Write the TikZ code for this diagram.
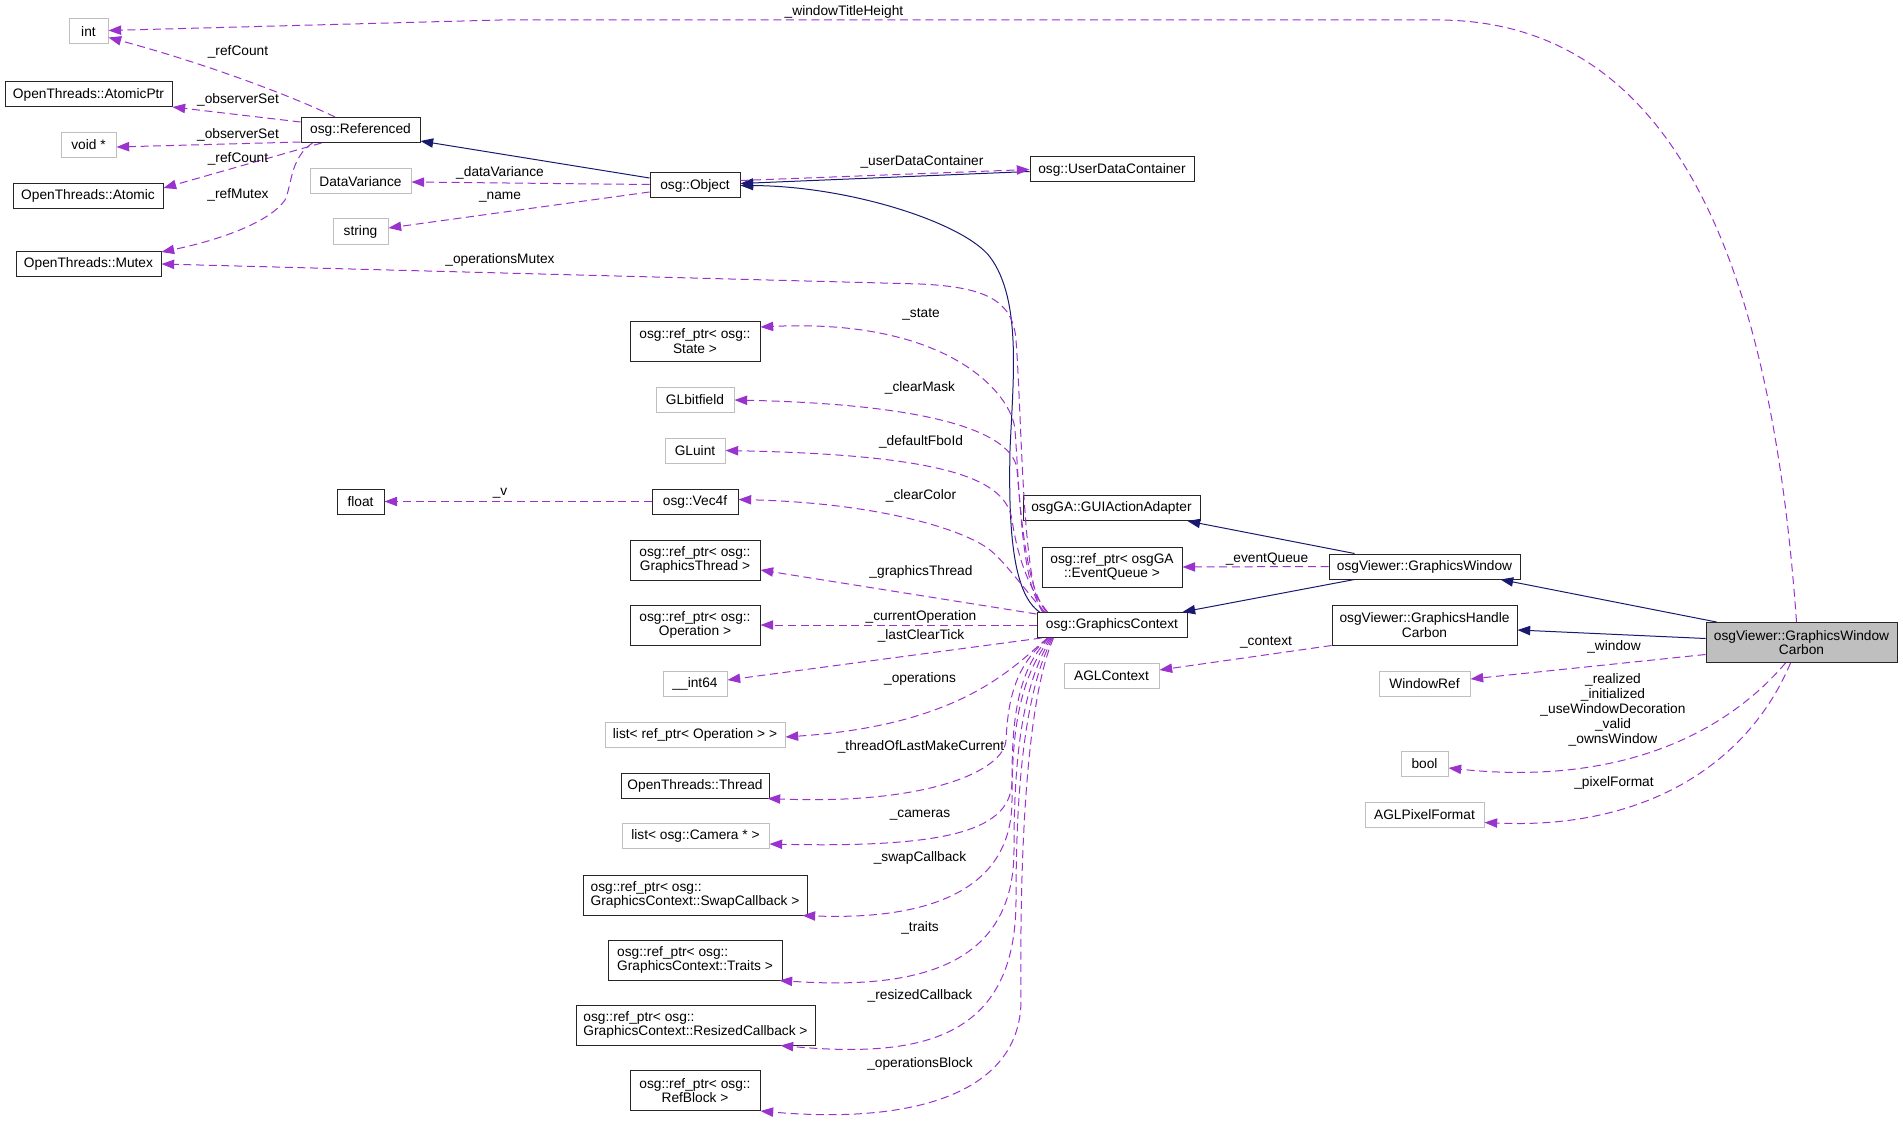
\documentclass[tikz,border=0pt]{standalone}
\usepackage{fontspec}
\setmainfont{Liberation Sans}
\usetikzlibrary{arrows.meta,calc}

\definecolor{inhblue}{RGB}{25,25,112}
\definecolor{usepurple}{RGB}{154,50,205}
\definecolor{extgray}{RGB}{191,191,191}

\begin{document}
\begin{tikzpicture}
            [x=0.75pt, y=-0.75pt,
            >={Triangle[length=9.5pt,width=7pt]},
            every node/.style={font=\fontsize{10.3}{10.9}\selectfont},
            cls/.style={draw=black!85, line width=0.75pt, fill=white, inner sep=0pt, minimum height=18.75pt, align=center},
            ext/.style={cls, draw=extgray},
            wd/.style={minimum width=#1*0.75pt},
            tall/.style={minimum height=30pt},
            inh/.style={->, draw=inhblue, line width=0.75pt},
            use/.style={->, draw=usepurple, line width=0.75pt, dash pattern=on 6pt off 3.5pt},
            lbl/.style={inner sep=0pt, align=center, font=\fontsize{10.3}{11.2}\selectfont}
            ]
            \useasboundingbox (0,0) rectangle (1903,1127);
            % left column
            \node[ext,wd=39] (int) at (88.5,31.5) {int};
            \node[cls,wd=167] (atomicptr) at (88.5,94.5) {OpenThreads::AtomicPtr};
            \node[ext,wd=55] (voidp) at (88.5,145) {void *};
            \node[cls,wd=150] (atomic) at (88,196) {OpenThreads::Atomic};
            \node[cls,wd=145] (mutex) at (88.5,264) {OpenThreads::Mutex};
            \node[cls,wd=119] (referenced) at (360.5,130) {osg::Referenced};
            \node[ext,wd=101] (datavar) at (360.5,181.5) {DataVariance};
            \node[ext,wd=55] (string) at (360.5,231.5) {string};
            \node[cls,wd=47] (float) at (360.5,501.5) {float};
            % members of GraphicsContext
            \node[cls,wd=90] (object) at (695,185.5) {osg::Object};
            \node[cls,wd=164] (userdata) at (1112,169.5) {osg::UserDataContainer};
            \node[cls,wd=130,tall] (state) at (695,341) {osg::ref\_ptr< osg::\\State >};
            \node[ext,wd=78] (glbitfield) at (695,400) {GLbitfield};
            \node[ext,wd=60] (gluint) at (695,450.5) {GLuint};
            \node[cls,wd=86] (vec4f) at (695,501.5) {osg::Vec4f};
            \node[cls,wd=130,tall] (gthread) at (695,560) {osg::ref\_ptr< osg::\\GraphicsThread >};
            \node[cls,wd=130,tall] (operation) at (695,625) {osg::ref\_ptr< osg::\\Operation >};
            \node[ext,wd=64] (int64) at (695,684) {\_\_int64};
            \node[ext,wd=180] (listop) at (695,734.5) {list< ref\_ptr< Operation > >};
            \node[cls,wd=148] (thread) at (695,785.5) {OpenThreads::Thread};
            \node[ext,wd=147] (listcam) at (695.5,836) {list< osg::Camera * >};
            \node[cls,wd=224,tall,align=left] (swapcb) at (695,895) {osg::ref\_ptr< osg::\\GraphicsContext::SwapCallback >};
            \node[cls,wd=174,tall,align=left] (traits) at (695,960) {osg::ref\_ptr< osg::\\GraphicsContext::Traits >};
            \node[cls,wd=239,tall,align=left] (resizedcb) at (695.5,1025) {osg::ref\_ptr< osg::\\GraphicsContext::ResizedCallback >};
            \node[cls,wd=130,tall] (refblock) at (695,1090.5) {osg::ref\_ptr< osg::\\RefBlock >};
            % middle and right
            \node[cls,wd=150] (gc) at (1112,625) {osg::GraphicsContext};
            \node[cls,wd=177] (guiaa) at (1111.5,508) {osgGA::GUIActionAdapter};
            \node[cls,wd=140,tall] (eventqueue) at (1112,567) {osg::ref\_ptr< osgGA\\::EventQueue >};
            \node[ext,wd=95] (aglcontext) at (1111.5,676) {AGLContext};
            \node[cls,wd=191] (gw) at (1424.5,566.5) {osgViewer::GraphicsWindow};
            \node[cls,wd=185,tall] (ghc) at (1424.5,625) {osgViewer::GraphicsHandle\\Carbon};
            \node[ext,wd=91] (windowref) at (1424.5,684) {WindowRef};
            \node[ext,wd=47] (bool) at (1424.5,764) {bool};
            \node[ext,wd=119] (aglpixel) at (1424.5,814.5) {AGLPixelFormat};
            \node[cls,wd=191,tall,fill=extgray] (gwc) at (1801.5,642.5) {osgViewer::GraphicsWindow\\Carbon};

            % inheritance
            \draw[inh] ($(object.west)+(0,-7.5)$) -- ($(referenced.south east)+(0,-2)$);
            \draw[inh] ($(userdata.west)+(0,2)$) -- ($(object.east)+(0,-2)$);
            \draw[inh] ($(gc.north west)+(3,0)$) .. controls (1015,595) and (1008,540) .. (1010,450)
                .. controls (1013,380) and (1022,300) .. (990,257)
                .. controls (964,223) and (850,186) .. (object.east);
            \draw[inh] ($(gw.north west)+(26,0)$) -- ($(guiaa.south)+(76,0)$);
            \draw[inh] ($(gw.south west)+(26,0)$) -- ($(gc.north east)+(-5,0)$);
            \draw[inh] ($(gwc.north west)+(11,0)$) -- ($(gw.south east)+(-20,0)$);
            \draw[inh] ($(gwc.west)+(0,-4)$) -- ($(ghc.east)+(0,5)$);

            % members
            \draw[use] ($(gwc.north)+(-5,0)$) .. controls (1775,320) and (1700,22) .. (1440,20) -- (500,20) -- ($(int.east)+(0,-1)$);
            \draw[use] ($(referenced.north)+(-25.5,0)$) .. controls (290,95) and (200,62) .. ($(int.east)+(0,6)$);
            \draw[use] ($(referenced.west)+(0,-8)$) -- ($(atomicptr.east)+(0,12.5)$);
            \draw[use] ($(referenced.west)+(0,12)$) -- ($(voidp.east)+(0,2)$);
            \draw[use] ($(referenced.south west)+(21,0)$) -- ($(atomic.east)+(0,-8)$);
            \draw[use] ($(referenced.south west)+(12,0)$) .. controls (290,158) and (292,185) .. (285,200)
                .. controls (270,222) and (220,240) .. ($(mutex.east)+(0,-12)$);
            \draw[use] ($(object.west)+(0,-1)$) -- ($(datavar.east)+(0,0.5)$);
            \draw[use] ($(object.west)+(0,6.5)$) -- ($(string.east)+(0,-3.5)$);
            \draw[use] ($(object.east)+(0,-5)$) -- (userdata.west);
            \draw[use] (vec4f.west) -- (float.east);
            \draw[use] ($(gc.north west)+(6,0)$) .. controls (1022,580) and (1022,420) .. (1016,340)
                .. controls (1013,300) and (985,287) .. (920,284) -- (mutex.east);
            \draw[use] ($(gc.north west)+(8,0)$) .. controls (1022,590) and (1020,500) .. (1015,430)
                .. controls (1012.5,395) and (950,318) .. ($(state.east)+(0,-14)$);
            \draw[use] ($(gc.north west)+(10,0)$) .. controls (1028,590) and (1022,530) .. (1017,470)
                .. controls (1014.5,440) and (960,405) .. (glbitfield.east);
            \draw[use] ($(gc.north west)+(11,0)$) .. controls (1030,590) and (1018,560) .. (1012,520)
                .. controls (1006,480) and (950,455) .. (gluint.east);
            \draw[use] ($(gc.north west)+(8,0)$) .. controls (1025,590) and (1005,562) .. (990,550)
                .. controls (965,530) and (880,503) .. ($(vec4f.east)+(0,-2)$);
            \draw[use] ($(gc.north west)+(0,2)$) -- ($(gthread.east)+(0,10)$);
            \draw[use] (gc.west) -- (operation.east);
            \draw[use] ($(gc.south west)+(5,0)$) -- ($(int64.east)+(0,-4)$);
            \draw[use] ($(gc.south west)+(11,0)$) .. controls (1010,670) and (960,725) .. ($(listop.east)+(0,2.5)$);
            \draw[use] ($(gc.south west)+(12,0)$) .. controls (1015,665) and (1008,700) .. (1006,740)
                .. controls (1004.5,770) and (930,805) .. ($(thread.south east)+(-2,0)$);
            \draw[use] ($(gc.south west)+(13,0)$) .. controls (1015,670) and (1012,730) .. (1012,780)
                .. controls (1012,830) and (950,848) .. ($(listcam.east)+(0,8)$);
            \draw[use] ($(gc.south west)+(14,0)$) .. controls (1017,680) and (1012,740) .. (1012,800)
                .. controls (1012,895) and (920,920) .. ($(swapcb.south east)+(-5,0)$);
            \draw[use] ($(gc.south west)+(15,0)$) .. controls (1018,690) and (1014,780) .. (1014,850)
                .. controls (1014,965) and (920,990) .. ($(traits.south east)+(-3,0)$);
            \draw[use] ($(gc.south west)+(16,0)$) .. controls (1020,700) and (1016,820) .. (1016,900)
                .. controls (1016,1040) and (920,1058) .. ($(resizedcb.south)+(85,0)$);
            \draw[use] ($(gc.south west)+(17,0)$) .. controls (1022,710) and (1020,900) .. (1021,1000)
                .. controls (1021,1090) and (920,1125) .. (refblock.south east);
            \draw[use] (gw.west) -- (eventqueue.east);
            \draw[use] (ghc.south west) -- ($(aglcontext.east)+(0,-6)$);
            \draw[use] ($(gwc.west)+(0,12)$) -- ($(windowref.east)+(0,-5)$);
            \draw[use] ($(gwc.south)+(-16,0)$) .. controls (1720,740) and (1610,785) .. ($(bool.east)+(0,4)$);
            \draw[use] ($(gwc.south)+(-11,0)$) .. controls (1750,760) and (1650,830) .. ($(aglpixel.east)+(0,8)$);

            % edge labels
            \node[lbl] (lWinTitle) at (844,12) {\_windowTitleHeight};
            \node[lbl] (lRefCountA) at (238,52) {\_refCount};
            \node[lbl] (lObsSetA) at (238,100) {\_observerSet};
            \node[lbl] (lObsSetB) at (238,135) {\_observerSet};
            \node[lbl] (lRefCountB) at (238,159) {\_refCount};
            \node[lbl] (lRefMutex) at (238,195) {\_refMutex};
            \node[lbl] (lDataVar) at (500,173) {\_dataVariance};
            \node[lbl] (lName) at (500,197) {\_name};
            \node[lbl] (lOpMutex) at (500,260) {\_operationsMutex};
            \node[lbl] (lUserData) at (922,162) {\_userDataContainer};
            \node[lbl] (lState) at (921,314) {\_state};
            \node[lbl] (lClearMask) at (920,388) {\_clearMask};
            \node[lbl] (lFboId) at (921,442) {\_defaultFboId};
            \node[lbl] (lClearColor) at (921,496) {\_clearColor};
            \node[lbl] (lV) at (500,493) {\_v};
            \node[lbl] (lGThread) at (921,572) {\_graphicsThread};
            \node[lbl] (lCurOp) at (921,617) {\_currentOperation};
            \node[lbl] (lLastTick) at (921,636) {\_lastClearTick};
            \node[lbl] (lOps) at (920,679) {\_operations};
            \node[lbl] (lThreadLMC) at (921,747) {\_threadOfLastMakeCurrent};
            \node[lbl] (lCameras) at (920,815) {\_cameras};
            \node[lbl] (lSwapCb) at (920,858) {\_swapCallback};
            \node[lbl] (lTraits) at (920,928) {\_traits};
            \node[lbl] (lResizedCb) at (920,996) {\_resizedCallback};
            \node[lbl] (lOpsBlock) at (920,1064) {\_operationsBlock};
            \node[lbl] (lEventQueue) at (1267,559) {\_eventQueue};
            \node[lbl] (lContext) at (1266,642) {\_context};
            \node[lbl] (lWindow) at (1614,647) {\_window};
            \node[lbl] (lBools) at (1613,710) {\_realized\\\_initialized\\\_useWindowDecoration\\\_valid\\\_ownsWindow};
            \node[lbl] (lPixFmt) at (1614,783) {\_pixelFormat};
\end{tikzpicture}
\end{document}
